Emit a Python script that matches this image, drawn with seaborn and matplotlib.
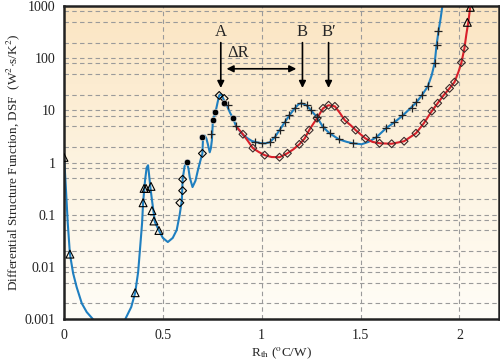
import numpy as np
import pandas as pd
import matplotlib
matplotlib.use('Agg')
import matplotlib.pyplot as plt
import seaborn as sns
from matplotlib.colors import LinearSegmentedColormap

# 曲線資料
blue_left_x = [0.0, 0.005, 0.01, 0.019, 0.03, 0.046, 0.064, 0.09, 0.115, 0.146]
blue_left_y = [1.3, 0.65, 0.30, 0.069, 0.0176, 0.0076, 0.0041, 0.002, 0.00136, 0.001]

blue_x = [0.31, 0.34, 0.36, 0.375, 0.384, 0.395, 0.40, 0.41, 0.418, 0.425, 0.43, 0.437,
          0.445, 0.46, 0.48, 0.50, 0.525, 0.55, 0.57, 0.585, 0.596, 0.60, 0.61, 0.621,
          0.63, 0.636, 0.65, 0.665, 0.677, 0.69, 0.70, 0.703, 0.712, 0.72, 0.727, 0.737,
          0.743, 0.748, 0.753, 0.766, 0.777, 0.785, 0.792, 0.798, 0.805, 0.815, 0.823,
          0.84, 0.855, 0.87, 0.89, 0.905, 0.93, 0.95, 0.975, 1.0, 1.02, 1.04, 1.066,
          1.09, 1.116, 1.14, 1.167, 1.185, 1.197, 1.21, 1.227, 1.25, 1.28, 1.31, 1.343,
          1.39, 1.43, 1.46, 1.505, 1.54, 1.58, 1.63, 1.67, 1.71, 1.74, 1.78, 1.81,
          1.84, 1.86, 1.875, 1.884, 1.894, 1.905, 1.915]
blue_y = [0.001, 0.0017, 0.0032, 0.008, 0.021, 0.07, 0.17, 0.46, 0.8, 0.89, 0.6, 0.33,
          0.19, 0.072, 0.05, 0.036, 0.030, 0.036, 0.051, 0.1, 0.19, 0.48, 0.85, 1.02,
          0.75, 0.52, 0.34, 0.45, 0.71, 1.1, 1.5, 2.9, 3.3, 2.9, 2.3, 1.58,
          1.9, 2.7, 6.5, 9.2, 14.4, 19.4, 20.5, 19.4, 17.0, 14.0, 12.6,
          9.0, 7.1, 5.0, 4.0, 3.4, 2.9, 2.6, 2.45, 2.35, 2.35, 2.45, 3.07,
          4.2, 5.9, 8.1, 11.0, 13.0, 13.7, 13.4, 12.5, 10.0, 7.4, 4.8, 3.66,
          2.8, 2.5, 2.35, 2.25, 2.5, 3.07, 4.6, 5.9, 7.8, 10.0, 14.0, 19.6,
          29.0, 48.0, 83.0, 177.0, 330.0, 590.0, 1100.0]

red_x = [0.87, 0.905, 0.93, 0.955, 0.985, 1.015, 1.05, 1.09, 1.13, 1.16, 1.19, 1.217,
         1.24, 1.26, 1.28, 1.31, 1.338, 1.37, 1.395, 1.42, 1.45, 1.475, 1.525, 1.56,
         1.596, 1.657, 1.72, 1.78, 1.82, 1.86, 1.89, 1.92, 1.95, 1.975, 1.995, 2.01,
         2.025, 2.035, 2.045, 2.055, 2.062]
red_y = [5.0, 3.5, 2.6, 1.9, 1.6, 1.39, 1.28, 1.27, 1.51, 1.8, 2.24, 2.9,
         4.2, 5.5, 7.1, 11.0, 12.6, 12.0, 9.0, 6.5, 5.2, 4.2, 2.9, 2.5,
         2.35, 2.3, 2.57, 3.66, 5.7, 9.7, 13.8, 19.6, 26.6, 35.0, 55.0, 83.0,
         155.0, 290.0, 500.0, 1000.0, 1300.0]

# 標記點
tri_x = [0.0, 0.03, 0.36, 0.40, 0.405, 0.415, 0.44, 0.445, 0.455, 0.48, 2.04, 2.055]
tri_y = [1.26, 0.0176, 0.0032, 0.17, 0.32, 0.32, 0.35, 0.12, 0.076, 0.05, 490, 950]
dia_x = [0.586, 0.60, 0.60, 0.70, 0.785, 0.81]
dia_y = [0.17, 0.29, 0.48, 1.5, 19.4, 17.0]
dot_x = [0.62, 0.70, 0.753, 0.766, 0.81, 0.855]
dot_y = [1.02, 3.07, 6.5, 9.2, 13.8, 7.1]
plus_x = [0.745, 0.83, 0.87, 0.965, 1.0, 1.04, 1.066, 1.09, 1.116, 1.14, 1.167, 1.197,
          1.227, 1.25, 1.28, 1.31, 1.343, 1.39, 1.46, 1.58, 1.63, 1.67, 1.71, 1.76,
          1.78, 1.81, 1.84, 1.875, 1.884, 1.894]
plus_y = [3.5, 13.0, 5.0, 2.45, 2.35, 2.45, 3.07, 4.2, 5.9, 8.1, 11.0, 13.7,
          12.5, 10.0, 7.4, 4.8, 3.66, 2.8, 2.35, 3.07, 4.6, 5.9, 8.1, 11.0,
          14.4, 19.6, 29.0, 83.0, 177.0, 330.0]
rdia_x = [0.905, 0.955, 1.015, 1.09, 1.13, 1.19, 1.217, 1.24, 1.28, 1.31, 1.338, 1.37,
          1.42, 1.475, 1.525, 1.596, 1.657, 1.72, 1.78, 1.82, 1.86, 1.89, 1.92, 1.95,
          1.975, 2.01, 2.025]
rdia_y = [3.5, 1.9, 1.39, 1.27, 1.51, 2.24, 2.9, 4.2, 7.1, 11.0, 12.6, 12.0,
          6.5, 4.2, 2.9, 2.35, 2.3, 2.57, 3.66, 5.7, 9.7, 13.8, 19.6, 26.6,
          35.0, 83.0, 155.0]

xticks = [0, 0.5, 1, 1.5, 2]
xtick_labels = ['0', '0.5', '1', '1.5', '2']
yticks = [0.001, 0.01, 0.1, 1, 10, 100, 1000]
ytick_labels = ['0.001', '0.01', '0.1', '1', '10', '100', '1000']

sns.set_theme(style='white')
plt.rcParams['font.family'] = ['Liberation Serif', 'DejaVu Serif']
plt.rcParams['mathtext.fontset'] = 'stix'

fig = plt.figure(figsize=(5.0, 3.63), dpi=100)
ax = fig.add_axes([0.128, 0.121, 0.870, 0.862])

# 背景漸層
cmap = LinearSegmentedColormap.from_list('bg', ['#fffdf7', '#fdf3e0', '#fbe5c2'])
grad = np.linspace(0, 1, 256).reshape(-1, 1)
ax.imshow(grad, cmap=cmap, aspect='auto', extent=[0, 1, 0, 1], origin='lower',
          transform=ax.transAxes, zorder=-2)

blue = '#1f7fc0'
red = '#d9202a'
sns.lineplot(x=blue_left_x, y=blue_left_y, color=blue, lw=1.5, sort=False, ax=ax, zorder=2)
sns.lineplot(x=blue_x, y=blue_y, color=blue, lw=1.5, sort=False, ax=ax, zorder=2)
sns.lineplot(x=red_x, y=red_y, color=red, lw=1.5, sort=False, ax=ax, zorder=2)

mk = dict(ax=ax, zorder=3, legend=False)
sns.scatterplot(x=tri_x, y=tri_y, marker='^', s=32, facecolor='none', edgecolor='black', linewidth=0.8, **mk)
sns.scatterplot(x=dia_x, y=dia_y, marker='D', s=16, facecolor='none', edgecolor='black', linewidth=0.8, **mk)
sns.scatterplot(x=rdia_x, y=rdia_y, marker='D', s=16, facecolor='none', edgecolor='#3a2a2a', linewidth=0.8, **mk)
sns.scatterplot(x=dot_x, y=dot_y, marker='o', s=22, color='black', **mk)
sns.scatterplot(x=plus_x, y=plus_y, marker='+', s=40, color='#222222', linewidth=0.9, **mk)

ax.set_yscale('log')
ax.set_xlim(0, 2.2)
ax.set_ylim(0.001, 1000)

ax.set_xticks(xticks)
ax.set_xticklabels(xtick_labels)
ax.set_yticks(yticks)
ax.set_yticklabels(ytick_labels)
minor = [m * 10.0 ** e for e in range(-3, 3) for m in (2, 5, 8)]
ax.set_yticks(minor, minor=True)
ax.yaxis.set_minor_formatter(matplotlib.ticker.NullFormatter())
ax.tick_params(axis='both', which='both', length=0, labelsize=10, colors='#222222')
ax.tick_params(axis='x', pad=7)
ax.tick_params(axis='y', pad=6)

ax.grid(True, which='major', axis='x', color='#9a9a9a', ls=(0, (4, 3)), lw=0.8)
ax.grid(True, which='both', axis='y', color='#9a9a9a', ls=(0, (4, 3)), lw=0.8)
ax.set_axisbelow(True)
for s in ax.spines.values():
    s.set_color('#222222')
    s.set_linewidth(1.8)

ax.set_xlabel('R$_{\\rm th}$ ($^{\\rm o}$C/W)', fontsize=9.5, labelpad=3)
ax.set_ylabel('Differential Structure Function, DSF  (W$^2$$\\cdot$s/K$^2$)', fontsize=9.5, labelpad=2)

# 標註箭頭
arr = dict(arrowstyle='-|>', color='black', lw=1.2, mutation_scale=10, shrinkA=0, shrinkB=0)
for xa, lab in [(0.793, 'A'), (1.206, 'B'), (1.338, "B\u2032")]:
    ax.annotate('', xy=(xa, 27), xytext=(xa, 200), arrowprops=arr)
    ax.text(xa, 320, lab, ha='center', va='center', fontsize=12)
ax.annotate('', xy=(0.822, 63), xytext=(1.175, 63),
            arrowprops=dict(arrowstyle='<|-|>', color='black', lw=1.2, mutation_scale=10,
                            shrinkA=0, shrinkB=0))
ax.text(0.88, 128, '\u0394R', ha='center', va='center', fontsize=12)

fig.savefig('out.png', dpi=100)
